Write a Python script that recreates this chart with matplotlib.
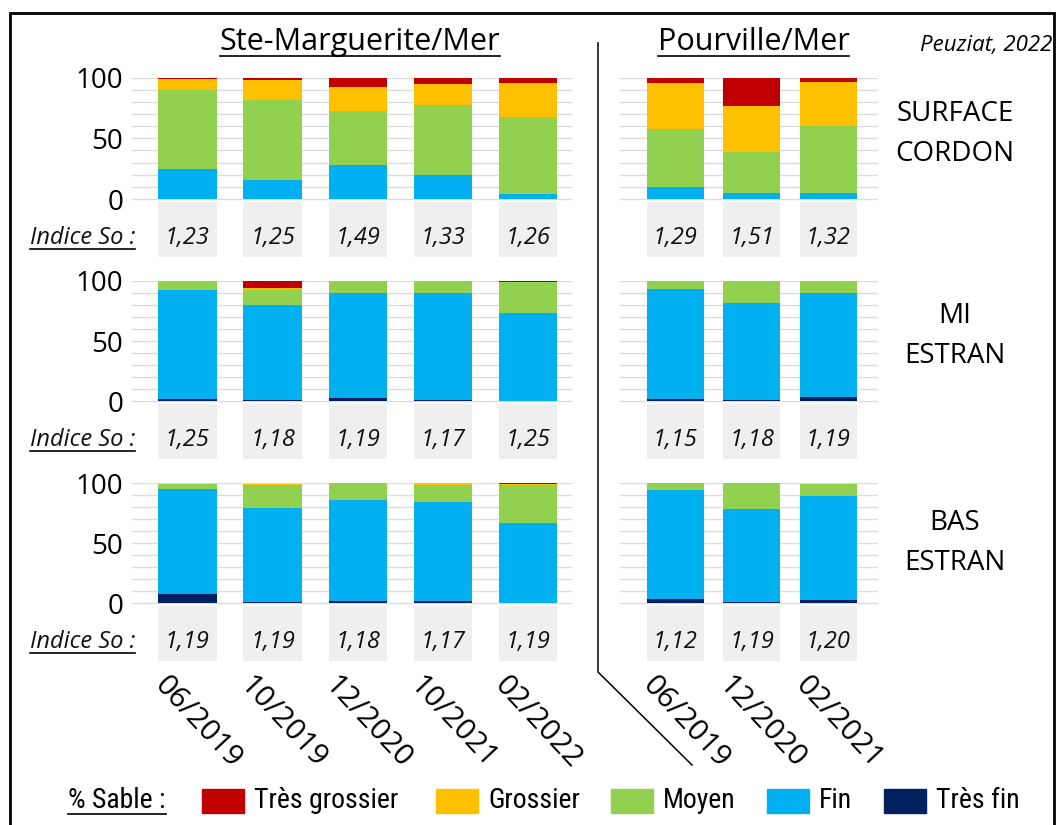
import matplotlib
matplotlib.use("Agg")
import matplotlib.pyplot as plt
from matplotlib import font_manager
from matplotlib.lines import Line2D
from matplotlib.patches import Rectangle
import numpy as np

# ---------------- data ----------------
classes = ["Très grossier", "Grossier", "Moyen", "Fin", "Très fin"]
colors = {"Très fin": "#002060", "Fin": "#00B0F0", "Moyen": "#92D050",
          "Grossier": "#FFC000", "Très grossier": "#C00000"}
stack_order = ["Très fin", "Fin", "Moyen", "Grossier", "Très grossier"]

dates_sm = ["06/2019", "10/2019", "12/2020", "10/2021", "02/2022"]
dates_pv = ["06/2019", "12/2020", "02/2021"]
zones = ["SURFACE\nCORDON", "MI\nESTRAN", "BAS\nESTRAN"]

# Ste-Marguerite/Mer
sm_surface_tres_fin = [0, 0, 0, 0, 0]
sm_surface_fin = [24.5, 16, 28, 19.5, 4]
sm_surface_moyen = [65.4, 66, 44.5, 58, 64]
sm_surface_grossier = [9, 16.3, 19.8, 17.3, 27.5]
sm_surface_tres_grossier = [1.1, 1.7, 7.7, 5.2, 4.5]

sm_mi_tres_fin = [2.2, 1.4, 3, 0.8, 0.3]
sm_mi_fin = [90.1, 78.7, 87.1, 89.3, 72.9]
sm_mi_moyen = [7.7, 12.2, 9.6, 9.6, 25.7]
sm_mi_grossier = [0, 1.7, 0.3, 0.3, 0.3]
sm_mi_tres_grossier = [0, 6, 0, 0, 0.8]

sm_bas_tres_fin = [7.5, 1, 2, 2, 0.3]
sm_bas_fin = [87.3, 78.5, 83.9, 82.2, 66.4]
sm_bas_moyen = [4.1, 18.6, 13.8, 14.1, 31.6]
sm_bas_grossier = [0.6, 1.0, 0.3, 1.4, 0.9]
sm_bas_tres_grossier = [0, 0.4, 0, 0.3, 0.6]

# Pourville/Mer
pv_surface_tres_fin = [0, 0, 0]
pv_surface_fin = [10, 5, 4.7]
pv_surface_moyen = [48, 34, 55.7]
pv_surface_grossier = [38, 37.4, 36.3]
pv_surface_tres_grossier = [4, 23.6, 3.3]

pv_mi_tres_fin = [1.5, 0.8, 3.6]
pv_mi_fin = [91.6, 80.7, 86.2]
pv_mi_moyen = [6.9, 18.2, 9.9]
pv_mi_grossier = [0, 0.3, 0.3]
pv_mi_tres_grossier = [0, 0, 0]

pv_bas_tres_fin = [3.3, 0.8, 2.5]
pv_bas_fin = [91, 77.8, 86.7]
pv_bas_moyen = [5.7, 21.1, 9.8]
pv_bas_grossier = [0, 0.3, 0.3]
pv_bas_tres_grossier = [0, 0, 0]

# Indice So
sm_so_surface = [1.23, 1.25, 1.49, 1.33, 1.26]
sm_so_mi = [1.25, 1.18, 1.19, 1.17, 1.25]
sm_so_bas = [1.19, 1.19, 1.18, 1.17, 1.19]
pv_so_surface = [1.29, 1.51, 1.32]
pv_so_mi = [1.15, 1.18, 1.19]
pv_so_bas = [1.12, 1.19, 1.20]

sm_data = [
    dict(zip(stack_order, [sm_surface_tres_fin, sm_surface_fin, sm_surface_moyen, sm_surface_grossier, sm_surface_tres_grossier])),
    dict(zip(stack_order, [sm_mi_tres_fin, sm_mi_fin, sm_mi_moyen, sm_mi_grossier, sm_mi_tres_grossier])),
    dict(zip(stack_order, [sm_bas_tres_fin, sm_bas_fin, sm_bas_moyen, sm_bas_grossier, sm_bas_tres_grossier])),
]
pv_data = [
    dict(zip(stack_order, [pv_surface_tres_fin, pv_surface_fin, pv_surface_moyen, pv_surface_grossier, pv_surface_tres_grossier])),
    dict(zip(stack_order, [pv_mi_tres_fin, pv_mi_fin, pv_mi_moyen, pv_mi_grossier, pv_mi_tres_grossier])),
    dict(zip(stack_order, [pv_bas_tres_fin, pv_bas_fin, pv_bas_moyen, pv_bas_grossier, pv_bas_tres_grossier])),
]
sm_so = [sm_so_surface, sm_so_mi, sm_so_bas]
pv_so = [pv_so_surface, pv_so_mi, pv_so_bas]

# ---------------- fonts ----------------
fonts = font_manager.fontManager.ttflist
avail = {f.name for f in fonts}
MAIN = "Open Sans" if "Open Sans" in avail else "DejaVu Sans"
NARROW = MAIN
for cand in ["Liberation Sans Narrow", "Roboto Condensed", "Open Sans Condensed"]:
    regular = [f for f in fonts if f.name == cand and f.style == "normal"
               and (f.weight in (400, "normal", "regular", "book"))]
    if regular:
        NARROW = cand
        break
plt.rcParams["font.family"] = [MAIN, "DejaVu Sans"]

W, H = 1059, 825
fig = plt.figure(figsize=(W / 100, H / 100), dpi=100)


def fx(x):
    return x / W


def fy(y):
    return 1 - y / H


# frame
fig.add_artist(Rectangle((fx(10), fy(840)), fx(1054) - fx(10), fy(13) - fy(840),
                         transform=fig.transFigure, fill=False, lw=2, ec="black"))

# ---------------- layout (pixels) ----------------
row_y100 = [77.7, 280.7, 483.0]
row_y0 = [199.0, 401.3, 603.3]
box_top_gap = 2.7
box_bottom_gap = 57.5
cols = [
    dict(x0=131.7, x1=572.0, c0=187.5, step=85.1, barw=58.3, data=sm_data, so=sm_so, dates=dates_sm),
    dict(x0=620.0, x1=878.0, c0=675.3, step=76.5, barw=57.3, data=pv_data, so=pv_so, dates=dates_pv),
]

for ci, col in enumerate(cols):
    n = len(col["dates"])
    x = np.arange(n)
    xlo = -(col["c0"] - col["x0"]) / col["step"]
    xhi = (col["x1"] - col["c0"]) / col["step"]
    bw = col["barw"] / col["step"]
    for ri in range(3):
        y100, y0 = row_y100[ri], row_y0[ri]
        scale = (y0 - y100) / 100.0
        ybot_px = y0 + box_bottom_gap
        ylo = -(ybot_px - y0) / scale
        ax = fig.add_axes([fx(col["x0"]), fy(ybot_px), fx(col["x1"]) - fx(col["x0"]), fy(y100) - fy(ybot_px)])
        ax.set_xlim(xlo, xhi)
        ax.set_ylim(ylo, 100)
        for s in ax.spines.values():
            s.set_visible(False)
        ax.set_yticks([0, 50, 100])
        ax.set_yticks(np.arange(0, 101, 10), minor=True)
        ax.yaxis.grid(True, which="both", color="#dcdcdc", lw=1.0)
        ax.set_axisbelow(True)
        ax.tick_params(axis="both", which="both", length=0)
        ax.set_xticks([])
        if ci == 0:
            ax.set_yticklabels(["0", "50", "100"], fontsize=20)
            ax.tick_params(axis="y", pad=6)
        else:
            ax.set_yticklabels([])
        # gray index boxes
        box_top = -box_top_gap / scale
        ax.bar(x, ylo - box_top, bottom=box_top, width=bw, color="#efefef", zorder=1)
        # stacked bars
        bottom = np.zeros(n)
        d = col["data"][ri]
        for cls in stack_order:
            vals = np.array(d[cls], dtype=float)
            ax.bar(x, vals, bottom=bottom, width=bw, color=colors[cls], zorder=2)
            bottom += vals
        # index values
        for xi, v in zip(x, col["so"][ri]):
            ax.text(xi, -32.0, f"{v:.2f}".replace(".", ","), ha="center", va="center",
                    fontsize=17, style="italic", color="#111111")
        if ci == 0:
            fig.text(fx(135), fy(y0 + 38.5), "Indice So :", ha="right", va="center",
                     fontsize=17, style="italic", color="#111111", gid="ul")
        # date labels below bottom row
        if ri == 2:
            for xi, lab in zip(x, col["dates"]):
                cx = col["c0"] + col["step"] * xi
                fig.text(fx(cx - 18), fy(671), lab, rotation=-47, rotation_mode="anchor",
                         ha="left", va="top", fontsize=21.5, color="black")

# zone labels
zone_y = [134, 336, 543]
for z, yy in zip(zones, zone_y):
    fig.text(fx(955), fy(yy), z, ha="center", va="center", fontsize=20,
             linespacing=1.55, color="black")

# titles
t1 = fig.text(fx(360), fy(42), "Ste-Marguerite/Mer", ha="center", va="center", fontsize=22)
t2 = fig.text(fx(753.5), fy(42), "Pourville/Mer", ha="center", va="center", fontsize=22)
fig.text(fx(1052), fy(45), "Peuziat, 2022", ha="right", va="center", fontsize=16, style="italic")

# separator line
fig.add_artist(Line2D([fx(598), fx(598), fx(692)], [fy(43), fy(672), fy(765)],
                      transform=fig.transFigure, color="black", lw=1.1))

# legend
leg_y = 801
leg_fs = 20 if NARROW != MAIN else 18.5
sable = fig.text(fx(68), fy(leg_y), "% Sable :", ha="left", va="center", fontsize=leg_fs,
                 family=[NARROW, "DejaVu Sans"], fontweight="normal")
sq_x = [202, 436, 611, 767, 884]
for cls, sx in zip(classes, sq_x):
    fig.add_artist(Rectangle((fx(sx), fy(leg_y + 12)), fx(42), fy(0) - fy(24),
                             transform=fig.transFigure, color=colors[cls]))
    fig.text(fx(sx + 52), fy(leg_y), cls, ha="left", va="center", fontsize=leg_fs,
             family=[NARROW, "DejaVu Sans"], fontweight="normal")

# underlines
fig.canvas.draw()
r = fig.canvas.get_renderer()
ul_texts = [t1, t2, sable] + [t for t in fig.texts if t.get_gid() == "ul"]
for t in ul_texts:
    bb = t.get_window_extent(r)
    yline = bb.y0 + 1
    fig.add_artist(Line2D([bb.x0 / W, bb.x1 / W], [yline / H, yline / H],
                          transform=fig.transFigure, color="black", lw=1.2))

fig.savefig("out.png", dpi=100)
